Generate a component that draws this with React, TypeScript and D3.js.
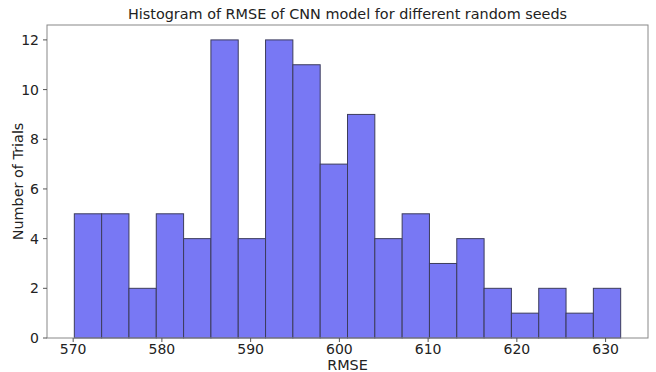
import React from "react";
import * as d3 from "d3";

const binStart = 570.13;
const binEnd = 631.7;
const counts = [5, 5, 2, 5, 4, 12, 4, 12, 11, 7, 9, 4, 5, 3, 4, 2, 1, 2, 1, 2];
const xTicks = [570, 580, 590, 600, 610, 620, 630];
const yTicks = [0, 2, 4, 6, 8, 10, 12];
const title = "Histogram of RMSE of CNN model for different random seeds";
const xLabel = "RMSE";
const yLabel = "Number of Trials";

const W = 656, H = 372;
const m = { left: 47, right: 8, top: 25, bottom: 34 };
const FONT = "DejaVu Sans, sans-serif";

export default function App() {
  const range = binEnd - binStart;
  const pad = range * 0.05;
  const x = d3.scaleLinear().domain([binStart - pad, binEnd + pad]).range([m.left, W - m.right]);
  const ymax = d3.max(counts)! * 1.05;
  const y = d3.scaleLinear().domain([0, ymax]).range([H - m.bottom, m.top]);
  const bw = range / counts.length;
  const bins = counts.map((c, i) => ({ x0: binStart + i * bw, x1: binStart + (i + 1) * bw, c }));
  const y0 = y(0);
  return (
    <svg width={W} height={H} style={{ position: "absolute", left: 0, top: 0, background: "#fff" }} fontFamily={FONT}>
      <rect x={0} y={0} width={W} height={H} fill="#fff" />
      {bins.map((b, i) => (
        <rect key={i} x={x(b.x0)} y={y(b.c)} width={x(b.x1) - x(b.x0)} height={y0 - y(b.c)}
          fill="#7878f4" stroke="#3c3c5c" strokeWidth={1} />
      ))}
      <rect x={m.left} y={m.top} width={W - m.right - m.left} height={H - m.bottom - m.top}
        fill="none" stroke="#888" strokeWidth={1} />
      {xTicks.map(t => (
        <g key={t} transform={`translate(${x(t)},${y0})`}>
          <line y1={0} y2={4} stroke="#555" />
          <text y={16} textAnchor="middle" fontSize={14} fill="#222">{t}</text>
        </g>
      ))}
      {yTicks.map(t => (
        <g key={t} transform={`translate(${m.left},${y(t)})`}>
          <line x1={0} x2={-4} stroke="#555" />
          <text x={-8} dy="0.36em" textAnchor="end" fontSize={14} fill="#222">{t}</text>
        </g>
      ))}
      <text x={(m.left + W - m.right) / 2} y={18.5} textAnchor="middle" fontSize={14.4} fill="#222">{title}</text>
      <text x={(m.left + W - m.right) / 2} y={369.5} textAnchor="middle" fontSize={14.4} fill="#222">{xLabel}</text>
      <text transform={`translate(23,${(m.top + H - m.bottom) / 2}) rotate(-90)`} textAnchor="middle" fontSize={14.4} fill="#222">{yLabel}</text>
    </svg>
  );
}
